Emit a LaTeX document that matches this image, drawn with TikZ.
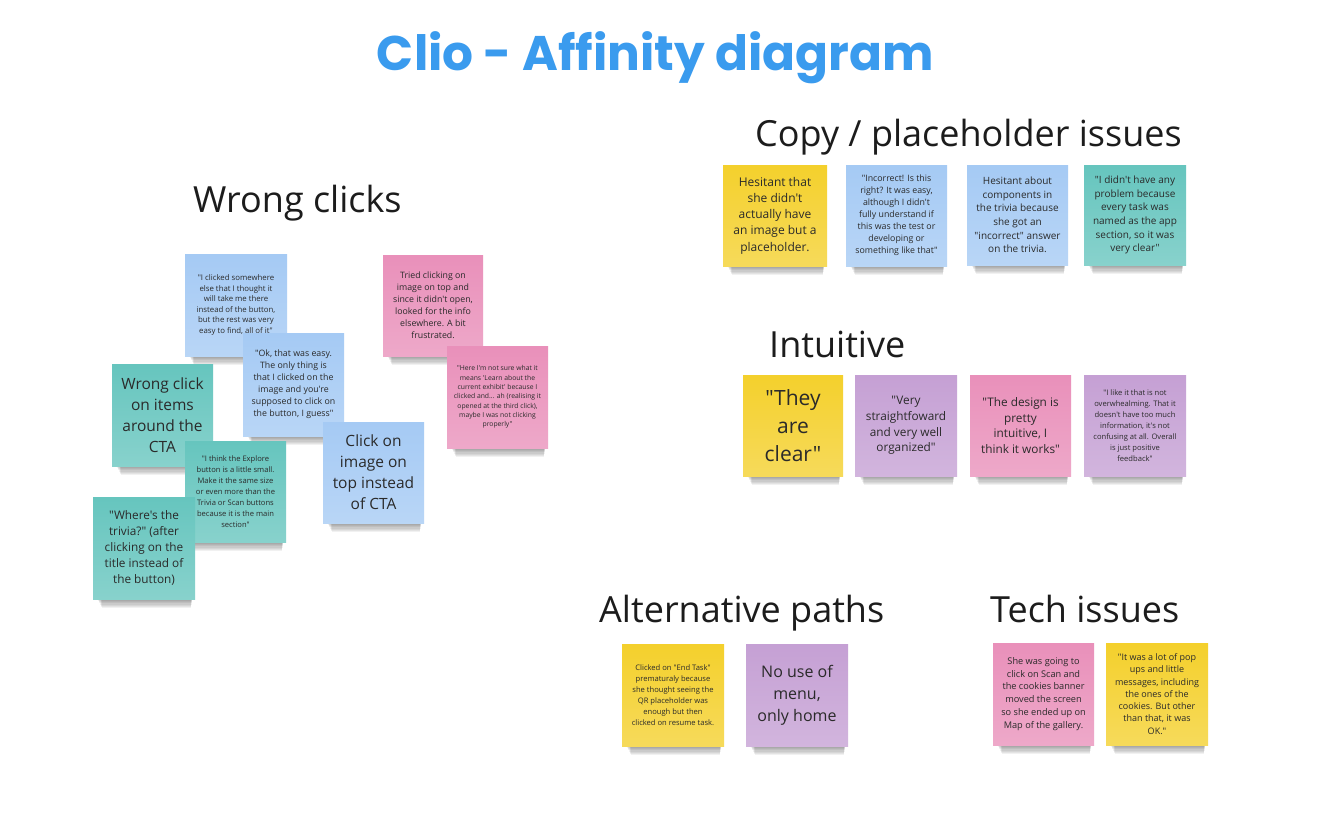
\documentclass[tikz,border=0pt]{standalone}
\usepackage{fontspec}
\setmainfont{Open Sans}[Ligatures=TeXOff]
\newfontfamily\titlefont{Poppins}
\definecolor{nyellow}{HTML}{F4D02C}
\definecolor{nblue}{HTML}{A5CAF4}
\definecolor{nteal}{HTML}{66C5BE}
\definecolor{npink}{HTML}{E990BA}
\definecolor{npurple}{HTML}{C5A0D4}
\definecolor{titleblue}{HTML}{3A9BEE}
\definecolor{notetext}{HTML}{2A2A2A}
\definecolor{headtext}{HTML}{1C1C1C}
\tikzset{
  stickybox/.style={rectangle, inner sep=0pt, align=center, text=notetext},
  heading/.style={anchor=base west, inner sep=0pt, text=headtext, font=\fontsize{36}{40}\selectfont},
}
\newcommand\stickynote[9]{%
  \pgfmathsetmacro\nw{#4-#2}\pgfmathsetmacro\nh{#5-#3}%
  \pgfmathsetmacro\cx{(#2+#4)/2}\pgfmathsetmacro\cy{(#3+#5)/2}%
  \foreach \k in {1,...,8}{\fill[black,opacity=0.055] (#2+4+\k*0.6, #5-6) rectangle (#4-2-\k*0.3, #5+\k*1.1);}%
  \node[stickybox, top color=#6, bottom color=#6!78!white, minimum width=\nw pt, minimum height=\nh pt, font={\fontsize{#7}{#8}\selectfont}] (#1) at (\cx,\cy) {#9};%
}
\begin{document}
\begin{tikzpicture}[x=1pt,y=-1pt]
\useasboundingbox (0,0) rectangle (1323,827);
\fill[white] (0,0) rectangle (1323,827);
\node[anchor=base, inner sep=0pt, text=titleblue, font=\titlefont\bfseries\fontsize{48.6}{52}\selectfont] (title) at (655.5,70) {Clio - Affinity diagram};
% headings
\node[heading] (hwrong) at (193,212) {Wrong clicks};
\node[heading] (hcopy) at (755,146) {Copy / placeholder issues};
\node[heading] (hintu) at (769,357) {Intuitive};
\node[heading] (halt) at (599,622) {Alternative paths};
\node[heading] (htech) at (990,622) {Tech issues};
% wrong clicks cluster
\stickynote{wa}{185}{254}{287}{356}{nblue}{7.8}{10.6}{"I clicked somewhere\\else that I thought it\\will take me there\\instead of the button,\\but the rest was very\\easy to find, all of it"}
\stickynote{wb}{243}{333}{344}{436}{nblue}{8.8}{12}{"Ok, that was easy.\\The only thing is\\that I clicked on the\\image and you're\\supposed to click on\\the button, I guess"}
\stickynote{wc}{112}{364}{213}{466}{nteal}{15.5}{21}{Wrong click\\on items\\around the\\CTA}
\stickynote{wd}{185}{441}{286}{542}{nteal}{7.6}{11}{"I think the Explore\\button is a little small.\\Make it the same size\\or even more than the\\Trivia or Scan buttons\\because it is the main\\section"}
\stickynote{we}{93}{497}{195}{599}{nteal}{11.8}{16}{"Where's the\\trivia?" (after\\clicking on the\\title instead of\\the button)}
\stickynote{wf}{323}{422}{424}{523}{nblue}{15.5}{21}{Click on\\image on\\top instead\\of CTA}
\stickynote{wg}{383}{255}{483}{356}{npink}{8.8}{12}{Tried clicking on\\image on top and\\since it didn't open,\\looked for the info\\elsewhere. A bit\\frustrated.}
\stickynote{wh}{447}{346}{548}{448}{npink}{6.8}{9.3}{"Here I'm not sure what it\\means 'Learn about the\\current exhibit' because I\\clicked and... ah (realising it\\opened at the third click),\\maybe I was not clicking\\properly"}
% copy / placeholder
\stickynote{ca}{723}{165}{827}{266}{nyellow}{12}{16.3}{Hesitant that\\she didn't\\actually have\\an image but a\\placeholder.}
\stickynote{cb}{846}{165}{947}{266}{nblue}{8.8}{12}{"Incorrect! Is this\\right? It was easy,\\although I didn't\\fully understand if\\this was the test or\\developing or\\something like that"}
\stickynote{cc}{967}{165}{1068}{265}{nblue}{10}{13.6}{Hesitant about\\components in\\the trivia because\\she got an\\"incorrect" answer\\on the trivia.}
\stickynote{cd}{1084}{165}{1186}{265}{nteal}{10}{13.6}{"I didn't have any\\problem because\\every task was\\named as the app\\section, so it was\\very clear"}
% intuitive
\stickynote{ia}{743}{375}{843}{476}{nyellow}{21}{28}{"They\\are\\clear"}
\stickynote{ib}{855}{375}{957}{476}{npurple}{11.8}{15.7}{"Very\\straightfoward\\and very well\\organized"}
\stickynote{ic}{970}{375}{1071}{476}{npink}{11.8}{15.7}{"The design is\\pretty\\intuitive, I\\think it works"}
\stickynote{id}{1084}{375}{1186}{476}{npurple}{7.6}{11}{"I like it that is not\\overwhealming. That it\\doesn't have too much\\information, it's not\\confusing at all. Overall\\is just positive\\feedback"}
% alternative paths
\stickynote{aa}{622}{644}{724}{746}{nyellow}{7.6}{10.9}{Clicked on "End Task"\\prematuraly because\\she thought seeing the\\QR placeholder was\\enough but then\\clicked on resume task.}
\stickynote{ab}{746}{644}{848}{746}{npurple}{16}{22}{No use of\\menu,\\only home}
% tech issues
\stickynote{ta}{993}{643}{1094}{745}{npink}{9.2}{12.8}{She was going to\\click on Scan and\\the cookies banner\\moved the screen\\so she ended up on\\Map of the gallery.}
\stickynote{tb}{1106}{643}{1208}{745}{nyellow}{9}{12.3}{"It was a lot of pop\\ups and little\\messages, including\\the ones of the\\cookies. But other\\than that, it was\\OK."}
\end{tikzpicture}
\end{document}
